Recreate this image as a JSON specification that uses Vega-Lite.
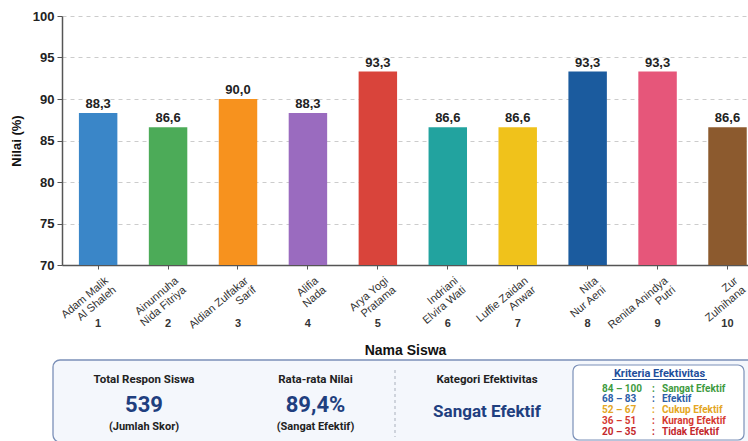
{
  "$schema": "https://vega.github.io/schema/vega-lite/v6.json",
  "background": "white",
  "padding": {"left": 10, "top": 10, "right": 0, "bottom": 0},
  "spacing": 2,
  "resolve": {"scale": {"color": "independent"}},
  "config": {
    "font": "Liberation Sans",
    "view": {"stroke": null},
    "locale": {"number": {"decimal": ",", "thousands": ".", "grouping": [3], "currency": ["", ""]}}
  },
  "datasets": {
    "nilai": [
      {"no": 1, "nama": "Adam Malik Al Shaleh", "nilai": 88.3},
      {"no": 2, "nama": "Ainunnuha Nida Fitriya", "nilai": 86.6},
      {"no": 3, "nama": "Aldian Zulfakar Sarif", "nilai": 90.0},
      {"no": 4, "nama": "Alifia Nada", "nilai": 88.3},
      {"no": 5, "nama": "Arya Yogi Pratama", "nilai": 93.3},
      {"no": 6, "nama": "Indriani Elvira Wati", "nilai": 86.6},
      {"no": 7, "nama": "Luffie Zaidan Anwar", "nilai": 86.6},
      {"no": 8, "nama": "Nita Nur Aeni", "nilai": 93.3},
      {"no": 9, "nama": "Renita Anindya Putri", "nilai": 93.3},
      {"no": 10, "nama": "Zur Zulnihana", "nilai": 86.6}
    ],
    "ringkasan": [
      {"kolom": 1, "judul": "Total Respon Siswa", "angka": "539", "ket": "(Jumlah Skor)"},
      {"kolom": 2, "judul": "Rata-rata Nilai", "angka": "89,4%", "ket": "(Sangat Efektif)"},
      {"kolom": 3, "judul": "Kategori Efektivitas", "kategori": "Sangat Efektif"}
    ],
    "kriteria": [
      {"urut": 1, "rentang": "84 – 100", "kategori": "Sangat Efektif"},
      {"urut": 2, "rentang": "68 – 83", "kategori": "Efektif"},
      {"urut": 3, "rentang": "52 – 67", "kategori": "Cukup Efektif"},
      {"urut": 4, "rentang": "36 – 51", "kategori": "Kurang Efektif"},
      {"urut": 5, "rentang": "20 – 35", "kategori": "Tidak Efektif"}
    ]
  },
  "vconcat": [
    {
      "width": 686,
      "height": 249,
      "data": {"name": "nilai"},
      "resolve": {"axis": {"x": "independent"}},
      "layer": [
        {
          "mark": {"type": "bar"},
          "encoding": {
            "x": {
              "field": "no", "type": "ordinal",
              "scale": {"paddingInner": 0.45, "paddingOuter": 0.13, "align": 0.93},
              "axis": {
                "title": null,
                "labelExpr": "[['Adam Malik','Al Shaleh'],['Ainunnuha','Nida Fitriya'],['Aldian Zulfakar','Sarif'],['Alifia','Nada'],['Arya Yogi','Pratama'],['Indriani','Elvira Wati'],['Luffie Zaidan','Anwar'],['Nita','Nur Aeni'],['Renita Anindya','Putri'],['Zur','Zulnihana']][datum.value - 1]",
                "labelAngle": -40,
                "labelAlign": "right",
                "labelBaseline": "middle",
                "labelFontSize": 11,
                "labelLineHeight": 12,
                "labelColor": "#333333",
                "labelPadding": 10,
                "labelOffset": 9,
                "tickSize": 4,
                "tickColor": "#555555",
                "domainColor": "#555555",
                "domainWidth": 1.5
              }
            },
            "y": {
              "field": "nilai", "type": "quantitative",
              "scale": {"domain": [70, 100], "zero": false, "nice": false},
              "axis": {
                "title": "Nilai (%)",
                "values": [70, 75, 80, 85, 90, 95, 100],
                "grid": true,
                "gridDash": [4, 4],
                "gridColor": "#cccccc",
                "labelFontSize": 13,
                "labelFontWeight": "bold",
                "labelColor": "#222222",
                "labelPadding": 3,
                "titleFontSize": 13,
                "titleFontWeight": "bold",
                "titleColor": "#111111",
                "titlePadding": 9,
                "domainColor": "#555555",
                "domainWidth": 1.5,
                "tickColor": "#555555",
                "tickSize": 5
              }
            },
            "y2": {"datum": 70},
            "color": {
              "field": "nama", "type": "nominal", "legend": null,
              "scale": {
                "domain": ["Adam Malik Al Shaleh", "Ainunnuha Nida Fitriya", "Aldian Zulfakar Sarif", "Alifia Nada", "Arya Yogi Pratama", "Indriani Elvira Wati", "Luffie Zaidan Anwar", "Nita Nur Aeni", "Renita Anindya Putri", "Zur Zulnihana"],
                "range": ["#3a86c8", "#4cab58", "#f7921e", "#9a6bbf", "#d9443b", "#22a39f", "#f0c21b", "#1b5b9e", "#e6567a", "#8c5a2e"]
              }
            }
          }
        },
        {
          "mark": {"type": "text", "baseline": "alphabetic", "dy": -5, "fontSize": 13, "fontWeight": "bold", "color": "#222222"},
          "encoding": {
            "x": {
              "field": "no", "type": "ordinal",
              "axis": {
                "orient": "bottom",
                "title": "Nama Siswa",
                "domain": false,
                "ticks": false,
                "grid": false,
                "labelAngle": 0,
                "labelPadding": 52,
                "labelFontSize": 11,
                "labelFontWeight": "bold",
                "labelColor": "#333333",
                "titleFontSize": 14,
                "titleFontWeight": "bold",
                "titleColor": "#111111",
                "titlePadding": 15
              }
            },
            "y": {"field": "nilai", "type": "quantitative"},
            "text": {"field": "nilai", "type": "quantitative", "format": ".1f"}
          }
        }
      ]
    },
    {
      "width": 700,
      "height": 82,
      "resolve": {"scale": {"x": "independent", "y": "independent"}},
      "layer": [
        {
          "data": {"values": [{}]},
          "mark": {"type": "rect", "cornerRadius": 7, "fill": "#f4f7fc", "stroke": "#7b90b8", "strokeWidth": 1.3},
          "encoding": {
            "x": {"datum": -9, "scale": {"domain": [0, 700]}, "axis": null},
            "x2": {"datum": 700},
            "y": {"datum": 0, "scale": {"domain": [0, 82], "reverse": true}, "axis": null},
            "y2": {"datum": 82}
          }
        },
        {
          "data": {"values": [{}]},
          "mark": {"type": "rule", "stroke": "#a9b0bc", "strokeDash": [3, 3], "strokeWidth": 1},
          "encoding": {
            "x": {"datum": 333, "scale": {"domain": [0, 700]}, "axis": null},
            "y": {"datum": 10, "scale": {"domain": [0, 82], "reverse": true}, "axis": null},
            "y2": {"datum": 77}
          }
        },
        {
          "data": {"name": "ringkasan"},
          "mark": {"type": "text", "font": "Roboto", "fontSize": 11.5, "fontWeight": "bold", "color": "#222222"},
          "encoding": {
            "x": {"field": "kolom", "type": "quantitative", "scale": {"domain": [1, 3], "range": [82, 425]}, "axis": null},
            "y": {"datum": 19.5, "scale": {"domain": [0, 82], "reverse": true}, "axis": null},
            "text": {"field": "judul"}
          }
        },
        {
          "data": {"name": "ringkasan"},
          "transform": [{"filter": "isValid(datum.angka)"}],
          "mark": {"type": "text", "font": "Roboto", "fontSize": 22, "fontWeight": "bold", "color": "#1f3f7f"},
          "encoding": {
            "x": {"field": "kolom", "type": "quantitative", "scale": {"domain": [1, 3], "range": [82, 425]}, "axis": null},
            "y": {"datum": 45, "scale": {"domain": [0, 82], "reverse": true}, "axis": null},
            "text": {"field": "angka"}
          }
        },
        {
          "data": {"name": "ringkasan"},
          "transform": [{"filter": "isValid(datum.ket)"}],
          "mark": {"type": "text", "font": "Roboto", "fontSize": 11, "fontWeight": "bold", "color": "#222222"},
          "encoding": {
            "x": {"field": "kolom", "type": "quantitative", "scale": {"domain": [1, 3], "range": [82, 425]}, "axis": null},
            "y": {"datum": 67, "scale": {"domain": [0, 82], "reverse": true}, "axis": null},
            "text": {"field": "ket"}
          }
        },
        {
          "data": {"name": "ringkasan"},
          "transform": [{"filter": "isValid(datum.kategori)"}],
          "mark": {"type": "text", "font": "Roboto", "fontSize": 17, "fontWeight": "bold", "color": "#1f3f7f"},
          "encoding": {
            "x": {"field": "kolom", "type": "quantitative", "scale": {"domain": [1, 3], "range": [82, 425]}, "axis": null},
            "y": {"datum": 52, "scale": {"domain": [0, 82], "reverse": true}, "axis": null},
            "text": {"field": "kategori"}
          }
        },
        {
          "data": {"values": [{}]},
          "mark": {"type": "rect", "cornerRadius": 6, "fill": "#ffffff", "stroke": "#7b90b8", "strokeWidth": 1.2},
          "encoding": {
            "x": {"datum": 511, "scale": {"domain": [0, 700]}, "axis": null},
            "x2": {"datum": 682},
            "y": {"datum": 5, "scale": {"domain": [0, 82], "reverse": true}, "axis": null},
            "y2": {"datum": 80}
          }
        },
        {
          "data": {"values": [{"judul": "Kriteria Efektivitas"}]},
          "mark": {"type": "text", "font": "Roboto", "fontSize": 11, "fontWeight": "bold", "color": "#1f4f9c"},
          "encoding": {
            "x": {"datum": 597.5, "scale": {"domain": [0, 700]}, "axis": null},
            "y": {"datum": 14, "scale": {"domain": [0, 82], "reverse": true}, "axis": null},
            "text": {"field": "judul"}
          }
        },
        {
          "data": {"values": [{}]},
          "mark": {"type": "rule", "stroke": "#1f4f9c", "strokeWidth": 1},
          "encoding": {
            "x": {"datum": 550, "scale": {"domain": [0, 700]}, "axis": null},
            "x2": {"datum": 645},
            "y": {"datum": 19.5, "scale": {"domain": [0, 82], "reverse": true}, "axis": null}
          }
        },
        {
          "data": {"name": "kriteria"},
          "mark": {"type": "text", "font": "Roboto", "fontSize": 10, "fontWeight": "bold", "align": "left"},
          "encoding": {
            "x": {"datum": 540, "scale": {"domain": [0, 700]}, "axis": null},
            "y": {"field": "urut", "type": "quantitative", "scale": {"domain": [1, 5], "range": [28.5, 71.5]}, "axis": null},
            "text": {"field": "rentang"},
            "color": {"field": "kategori", "type": "nominal", "legend": null, "scale": {"domain": ["Sangat Efektif", "Efektif", "Cukup Efektif", "Kurang Efektif", "Tidak Efektif"], "range": ["#3f9b3f", "#2c5ea8", "#e4a623", "#d63a32", "#c4282c"]}}
          }
        },
        {
          "data": {"name": "kriteria"},
          "mark": {"type": "text", "font": "Roboto", "fontSize": 10, "fontWeight": "bold", "align": "left", "text": ":"},
          "encoding": {
            "x": {"datum": 590, "scale": {"domain": [0, 700]}, "axis": null},
            "y": {"field": "urut", "type": "quantitative", "scale": {"domain": [1, 5], "range": [28.5, 71.5]}, "axis": null},
            "color": {"field": "kategori", "type": "nominal", "legend": null}
          }
        },
        {
          "data": {"name": "kriteria"},
          "mark": {"type": "text", "font": "Roboto", "fontSize": 10, "fontWeight": "bold", "align": "left"},
          "encoding": {
            "x": {"datum": 600, "scale": {"domain": [0, 700]}, "axis": null},
            "y": {"field": "urut", "type": "quantitative", "scale": {"domain": [1, 5], "range": [28.5, 71.5]}, "axis": null},
            "text": {"field": "kategori"},
            "color": {"field": "kategori", "type": "nominal", "legend": null}
          }
        }
      ]
    }
  ]
}
